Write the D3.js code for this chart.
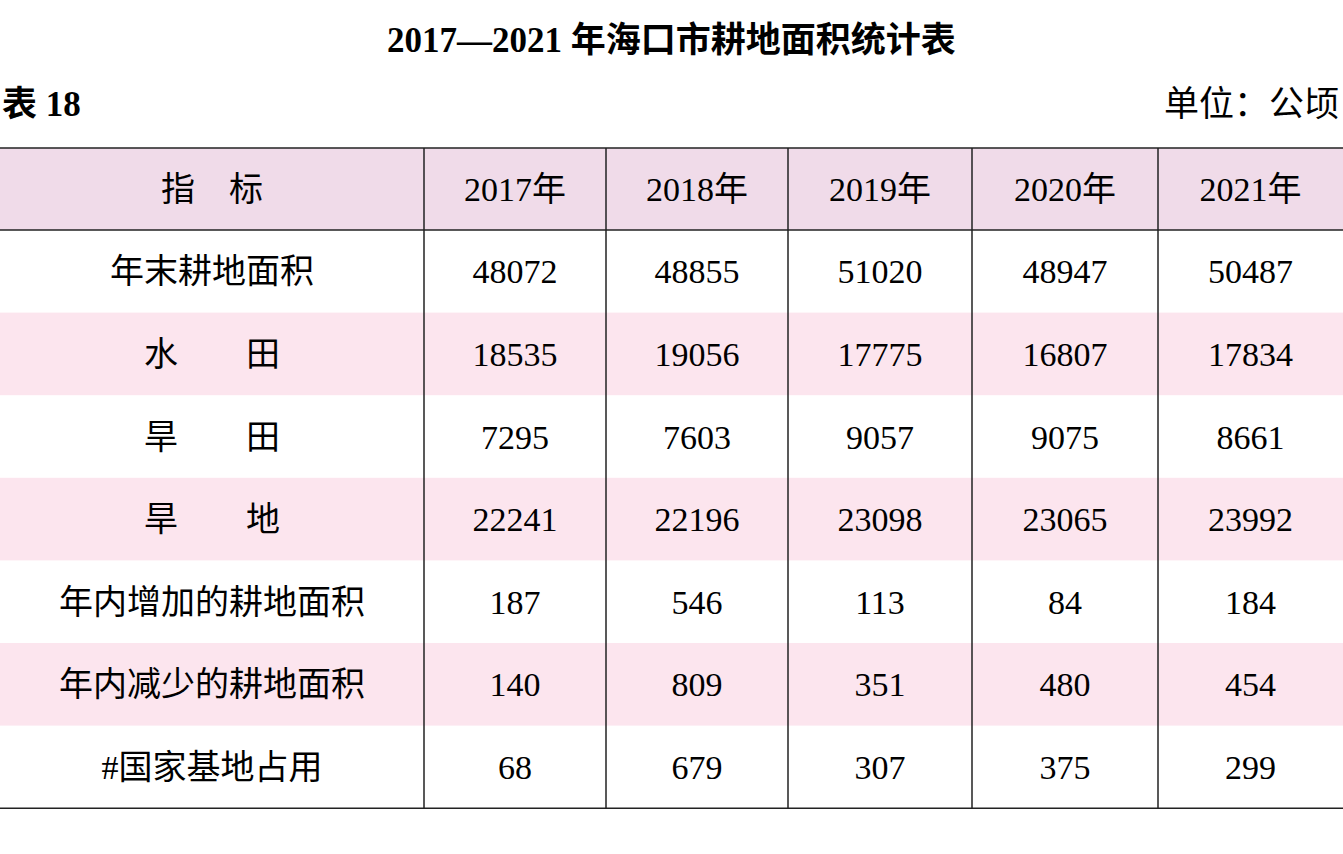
<!DOCTYPE html>
<html><head><meta charset="utf-8">
<script src="https://cdn.jsdelivr.net/npm/d3@7"></script>
<style>body{margin:0;background:#fff}</style>
</head><body>
<script>
// table contents
const years = ["2017年", "2018年", "2019年", "2020年", "2021年"];
const indicators = ["年末耕地面积", "水　　田", "旱　　田", "旱　　地", "年内增加的耕地面积", "年内减少的耕地面积", "#国家基地占用"];
const v2017 = [48072, 18535, 7295, 22241, 187, 140, 68];
const v2018 = [48855, 19056, 7603, 22196, 546, 809, 679];
const v2019 = [51020, 17775, 9057, 23098, 113, 351, 307];
const v2020 = [48947, 16807, 9075, 23065, 84, 480, 375];
const v2021 = [50487, 17834, 8661, 23992, 184, 454, 299];
const cols = [v2017, v2018, v2019, v2020, v2021];

const W = 1343, H = 854;
const font = "'Liberation Serif','Noto Sans CJK SC',serif";
const svg = d3.select("body").append("svg").attr("width", W).attr("height", H);

const colEdges = [0, 424, 606, 788, 972, 1158, W];
const tableTop = 148, headH = 82, rowH = 82.6;
const y = d3.scaleLinear().domain([0, indicators.length]).range([tableTop + headH, tableTop + headH + rowH * indicators.length]);

svg.append("text").attr("x", W / 2).attr("y", 52).attr("text-anchor", "middle")
  .attr("font-family", font).attr("font-size", 35).attr("font-weight", "bold")
  .text("2017—2021 年海口市耕地面积统计表");
svg.append("text").attr("x", 2).attr("y", 116).attr("font-family", font)
  .attr("font-size", 35).attr("font-weight", "bold").text("表 18");
svg.append("text").attr("x", W - 4).attr("y", 116).attr("text-anchor", "end")
  .attr("font-family", font).attr("font-size", 35).text("单位：公顷");

// header and striped rows
svg.append("rect").attr("x", 0).attr("y", tableTop).attr("width", W).attr("height", headH).attr("fill", "#f0dbe9");
indicators.forEach((d, i) => {
  if (i % 2 === 1) svg.append("rect").attr("x", 0).attr("y", y(i)).attr("width", W).attr("height", rowH).attr("fill", "#fce5ee");
});

const cx = i => (colEdges[i] + colEdges[i + 1]) / 2;
const headers = ["指　标"].concat(years);
headers.forEach((h, i) => {
  svg.append("text").attr("x", cx(i)).attr("y", tableTop + headH / 2 + 12).attr("text-anchor", "middle")
    .attr("font-family", font).attr("font-size", 34).text(h);
});

indicators.forEach((d, r) => {
  const ty = y(r) + rowH / 2 + 12;
  svg.append("text").attr("x", cx(0)).attr("y", ty).attr("text-anchor", "middle")
    .attr("font-family", font).attr("font-size", 34).text(d);
  cols.forEach((c, j) => {
    svg.append("text").attr("x", cx(j + 1)).attr("y", ty).attr("text-anchor", "middle")
      .attr("font-family", font).attr("font-size", 34).text(c[r]);
  });
});

// rules
const bottom = y(indicators.length);
[tableTop, tableTop + headH, bottom].forEach(yy => {
  svg.append("line").attr("x1", 0).attr("x2", W).attr("y1", yy).attr("y2", yy)
    .attr("stroke", "#222").attr("stroke-width", 1.5);
});
colEdges.slice(1, -1).forEach(xx => {
  svg.append("line").attr("x1", xx).attr("x2", xx).attr("y1", tableTop).attr("y2", bottom)
    .attr("stroke", "#222").attr("stroke-width", 1.5);
});
</script>
</body></html>
